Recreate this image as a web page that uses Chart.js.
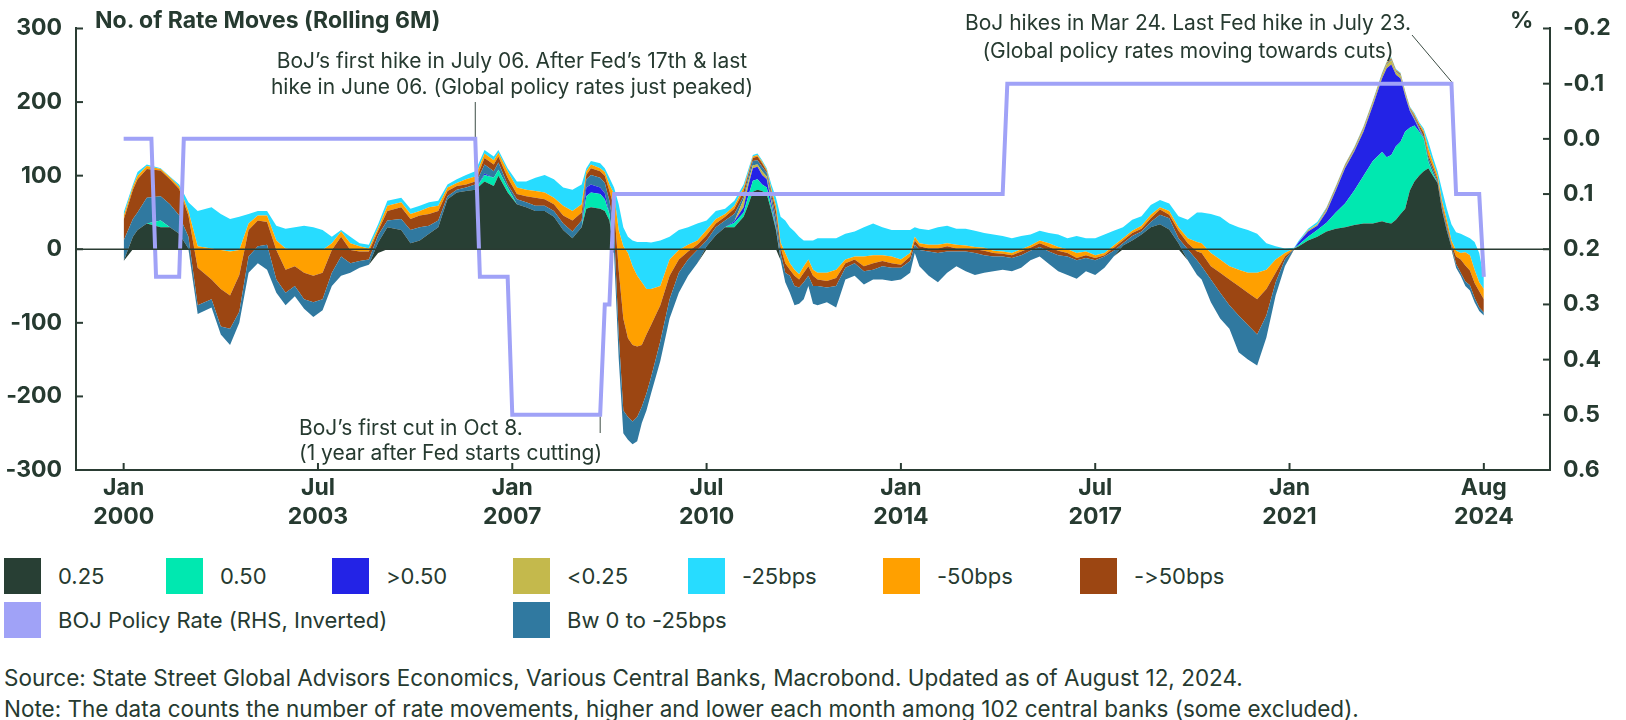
<!DOCTYPE html>
<html>
<head>
<meta charset="utf-8">
<script src="https://cdn.jsdelivr.net/npm/chart.js@4.4.1/dist/chart.umd.min.js"></script>
<style>
  body { margin: 0; background: #fff; }
  #page { position: relative; width: 1626px; height: 720px; overflow: hidden; font-family: Inter, "Noto Sans", sans-serif; color: #263a30;
          font-variant-ligatures: none; font-feature-settings: "liga" 0, "calt" 0; }
  #chart { position: absolute; left: 0; top: 0; }
  .t { position: absolute; white-space: nowrap; }
  .b { font-weight: 700; }
  .ann { font-size: 21px; line-height: 26px; }
  .foot { font-size: 22.5px; line-height: 28px; left: 4px; }
  .item { position: absolute; display: flex; align-items: center; font-size: 22px; white-space: nowrap; }
  .sw { width: 37px; height: 36px; margin-right: 17px; }
</style>
</head>
<body>
<div id="page">
  <canvas id="chart" width="1626" height="540"></canvas>
  <div class="t b" style="left:95px;top:7px;font-size:23px;line-height:27px">No. of Rate Moves (Rolling 6M)</div>
  <div class="t b" style="left:1510px;top:7px;font-size:23px;line-height:26px">%</div>
  <div class="t ann" style="left:512px;top:48px;transform:translateX(-50%);text-align:center">BoJ’s first hike in July 06. After Fed’s 17th &amp; last<br>hike in June 06. (Global policy rates just peaked)</div>
  <div class="t ann" style="left:299px;top:415px;line-height:25px">BoJ’s first cut in Oct 8.<br>(1 year after Fed starts cutting)</div>
  <div class="t ann" style="left:1188px;top:9px;line-height:28px;transform:translateX(-50%);text-align:center">BoJ hikes in Mar 24. Last Fed hike in July 23.<br>(Global policy rates moving towards cuts)</div>
  <div id="legend"></div>
  <div class="t foot" style="top:664px">Source: State Street Global Advisors Economics, Various Central Banks, Macrobond. Updated as of August 12, 2024.</div>
  <div class="t foot" style="top:695px">Note: The data counts the number of rate movements, higher and lower each month among 102 central banks (some excluded).</div>
</div>
<script>
// months since Jan 2000 (sampled)
const months = [
  0, 2, 3, 5, 8, 10, 12, 14, 16, 19,
  21, 23, 25, 27, 29, 31, 33, 35, 37, 39,
  41, 43, 45, 47, 49, 51, 53, 55, 57, 60,
  62, 64, 66, 68, 70, 72, 74, 76, 78, 80,
  81, 83, 85, 87, 89, 91, 93, 95, 97, 99,
  100, 101, 103, 104, 105, 106, 107, 108, 109, 110,
  111, 112, 113, 114, 116, 118, 120, 122, 124, 126,
  128, 130, 132, 134, 135, 136, 137, 138, 139, 140,
  141, 142, 143, 144, 145, 146, 147, 148, 149, 150,
  152, 154, 156, 158, 160, 162, 164, 166, 168, 170,
  171, 172, 174, 176, 178, 180, 182, 184, 186, 188,
  190, 192, 194, 196, 198, 200, 202, 204, 206, 208,
  210, 212, 214, 216, 218, 220, 222, 224, 226, 228,
  230, 232, 233, 235, 237, 239, 241, 243, 245, 247,
  249, 251, 253, 254, 256, 258, 260, 262, 264, 266,
  268, 270, 272, 273, 274, 275, 276, 277, 278, 279,
  280, 281, 282, 283, 284, 285, 286, 287, 288, 289,
  290, 291, 292, 293, 294
];

// floor of the stack (where the lowest band starts)
const floor = [
  -16, 0, 0, 0, 0, 0, 0, 0, -88, -79,
  -116, -130, -100, -32, -19, -28, -59, -76, -64, -81,
  -92, -83, -50, -36, -32, -25, -21, -5, 0, 0,
  0, 0, 0, 0, 0, 0, 0, 0, 0, 0,
  0, 0, 0, 0, 0, 0, 0, 0, 0, 0,
  0, 0, 0, 0, 0, -5, -148, -250, -259, -265,
  -261, -236, -219, -196, -152, -94, -59, -36, -19, 0,
  0, 0, 0, 0, 0, 0, 0, 0, 0, 0,
  0, -15, -45, -59, -76, -74, -68, -50, -74, -76,
  -72, -79, -41, -36, -48, -41, -41, -43, -41, -32,
  -5, -23, -36, -45, -32, -23, -30, -35, -32, -30,
  -28, -30, -25, -15, -10, -20, -30, -35, -40, -30,
  -35, -25, -10, 0, 0, 0, 0, 0, 0, 0,
  -15, -35, -41, -72, -94, -108, -140, -150, -158, -120,
  -63, -23, 0, 0, 0, 0, 0, 0, 0, 0,
  0, 0, 0, 0, 0, 0, 0, 0, 0, 0,
  0, 0, 0, 0, 0, 0, 0, 0, -25, -36,
  -50, -56, -72, -84, -90
];

const hike025 = [
  0, 17, 26, 35, 30, 30, 21, 1, 0, 0,
  0, 0, 0, 0, 0, 0, 0, 0, 0, 0,
  0, 0, 0, 0, 0, 0, 0, 14, 30, 26,
  8, 12, 21, 30, 68, 77, 79, 81, 92, 86,
  100, 77, 61, 57, 52, 52, 44, 26, 15, 30,
  55, 57, 55, 52, 39, 0, 0, 0, 0, 0,
  0, 0, 0, 0, 0, 0, 0, 0, 0, 4,
  19, 30, 30, 44, 60, 78, 81, 79, 75, 52,
  26, 0, 0, 0, 0, 0, 0, 0, 0, 0,
  0, 0, 0, 0, 0, 0, 0, 0, 0, 0,
  0, 0, 0, 0, 0, 0, 0, 0, 0, 0,
  0, 0, 0, 0, 0, 0, 0, 0, 0, 0,
  0, 0, 0, 5, 12, 20, 30, 34, 27, 8,
  0, 0, 0, 0, 0, 0, 0, 0, 0, 0,
  0, 0, 1, 4, 12, 17, 24, 28, 30, 33,
  35, 35, 38, 36, 35, 40, 48, 55, 80, 92,
  100, 106, 110, 100, 90, 52, 25, 3, 0, 0,
  0, 0, 0, 0, 0
];

const hike050 = [
  0, 0, 0, 0, 9, 0, 0, 0, 0, 0,
  0, 0, 0, 0, 0, 0, 0, 0, 0, 0,
  0, 0, 0, 0, 0, 0, 0, 0, 0, 0,
  0, 0, 0, 0, 0, 0, 0, 0, 9, 11,
  8, 7, 0, 0, 0, 0, 0, 0, 0, 0,
  17, 20, 20, 16, 9, 0, 0, 0, 0, 0,
  0, 0, 0, 0, 0, 0, 0, 0, 0, 0,
  0, 0, 6, 6, 12, 15, 14, 9, 9, 5,
  2, 0, 0, 0, 0, 0, 0, 0, 0, 0,
  0, 0, 0, 0, 0, 0, 0, 0, 0, 0,
  0, 0, 0, 0, 0, 0, 0, 0, 0, 0,
  0, 0, 0, 0, 0, 0, 0, 0, 0, 0,
  0, 0, 0, 0, 0, 0, 0, 0, 0, 0,
  0, 0, 0, 0, 0, 0, 0, 0, 0, 0,
  0, 0, 0, 2, 5, 9, 12, 22, 32, 47,
  65, 85, 94, 89, 93, 100, 98, 105, 85, 76,
  60, 44, 9, 3, 0, 0, 0, 0, 0, 0,
  0, 0, 0, 0, 0
];

const hikeOver050 = [
  0, 0, 0, 0, 0, 0, 0, 0, 0, 0,
  0, 0, 0, 0, 0, 0, 0, 0, 0, 0,
  0, 0, 0, 0, 0, 0, 0, 0, 0, 0,
  0, 0, 0, 0, 0, 0, 0, 0, 2, 0,
  0, 0, 0, 0, 0, 0, 0, 0, 0, 0,
  12, 11, 9, 8, 0, 0, 0, 0, 0, 0,
  0, 0, 0, 0, 0, 0, 0, 0, 0, 0,
  0, 0, 2, 7, 14, 17, 17, 13, 11, 6,
  2, 0, 0, 0, 0, 0, 0, 0, 0, 0,
  0, 0, 0, 0, 0, 0, 0, 0, 0, 0,
  0, 0, 0, 0, 0, 0, 0, 0, 0, 0,
  0, 0, 0, 0, 0, 0, 0, 0, 0, 0,
  0, 0, 0, 0, 0, 0, 0, 0, 0, 0,
  0, 0, 0, 0, 0, 0, 0, 0, 0, 0,
  0, 0, 0, 4, 7, 6, 15, 30, 48, 53,
  60, 75, 100, 121, 123, 97, 86, 48, 23, 8,
  3, 0, 0, 0, 0, 0, 0, 0, 0, 0,
  0, 0, 0, 0, 0
];

const hikeUnder025 = [
  0, 0, 0, 0, 0, 0, 0, 0, 0, 0,
  0, 0, 0, 0, 0, 0, 0, 0, 0, 0,
  0, 0, 0, 0, 0, 0, 0, 0, 0, 0,
  0, 0, 0, 0, 0, 0, 0, 0, 0, 0,
  0, 0, 0, 0, 0, 0, 0, 0, 0, 0,
  0, 0, 0, 0, 0, 0, 0, 0, 0, 0,
  0, 0, 0, 0, 0, 0, 0, 0, 0, 0,
  0, 0, 0, 11, 6, 4, 3, 5, 4, 3,
  1, 0, 0, 0, 0, 0, 0, 0, 0, 0,
  0, 0, 0, 0, 0, 0, 0, 0, 0, 0,
  0, 0, 0, 0, 0, 0, 0, 0, 0, 0,
  0, 0, 0, 0, 0, 0, 0, 0, 0, 0,
  0, 0, 0, 0, 0, 0, 0, 0, 0, 0,
  0, 0, 0, 0, 0, 0, 0, 0, 0, 0,
  0, 0, 0, 0, 2, 2, 2, 2, 2, 2,
  3, 3, 4, 5, 6, 4, 4, 3, 2, 1,
  1, 0, 0, 0, 0, 0, 0, 0, 0, 0,
  0, 0, 0, 0, 0
];

const cutBw025 = [
  28, 24, 24, 35, 33, 31, 25, 16, 12, 11,
  11, 22, 15, 22, 23, 34, 18, 17, 14, 13,
  20, 15, 18, 26, 13, 9, 7, 10, 9, 15,
  18, 18, 11, 9, 4, 4, 5, 7, 12, 9,
  10, 4, 7, 7, 7, 7, 8, 9, 9, 9,
  11, 13, 13, 14, 18, 31, 32, 31, 31, 31,
  33, 22, 23, 22, 27, 26, 27, 22, 18, 8,
  11, 9, 10, 4, 6, 6, 6, 6, 5, 7,
  12, 10, 13, 23, 26, 22, 23, 14, 24, 26,
  20, 29, 16, 17, 18, 13, 18, 18, 16, 16,
  11, 22, 33, 40, 29, 20, 27, 30, 24, 20,
  18, 18, 17, 13, 13, 17, 22, 25, 25, 18,
  20, 15, 8, 3, 6, 4, 7, 13, 15, 7,
  15, 20, 18, 31, 35, 32, 50, 47, 42, 30,
  18, 9, 0, 0, 0, 0, 1, 1, 1, 1,
  1, 1, 1, 1, 1, 1, 1, 1, 1, 2,
  2, 3, 5, 5, 2, 3, 4, 2, 5, 4,
  6, 7, 6, 5, 4
];

const cutOver50 = [
  28, 40, 45, 39, 35, 34, 36, 29, 51, 27,
  51, 45, 50, 36, 35, 31, 40, 31, 27, 36,
  36, 36, 31, 27, 18, 13, 11, 6, 13, 16,
  15, 16, 16, 13, 7, 5, 4, 4, 9, 9,
  8, 9, 7, 8, 11, 9, 9, 11, 15, 11,
  6, 9, 9, 10, 13, 31, 88, 125, 107, 104,
  96, 84, 80, 71, 49, 32, 18, 11, 7, 7,
  5, 5, 7, 7, 4, 4, 5, 5, 2, 5,
  9, 8, 13, 8, 14, 11, 13, 13, 14, 9,
  9, 11, 6, 5, 7, 9, 7, 6, 4, 6,
  6, 5, 4, 6, 7, 4, 4, 5, 6, 5,
  4, 4, 5, 4, 5, 6, 6, 5, 3, 4,
  3, 2, 4, 4, 4, 4, 5, 7, 5, 10,
  8, 12, 18, 18, 27, 35, 40, 44, 48, 36,
  13, 4, 0, 0, 0, 0, 1, 1, 1, 1,
  1, 1, 1, 1, 1, 1, 1, 1, 1, 2,
  3, 5, 4, 4, 3, 4, 4, 2, 10, 18,
  22, 20, 20, 22, 18
];

const cut50 = [
  5, 4, 5, 4, 2, 3, 3, 6, 29, 42,
  53, 60, 34, 9, 7, 9, 13, 29, 22, 31,
  35, 31, 9, 7, 9, 7, 4, 4, 7, 7,
  7, 6, 9, 7, 5, 4, 7, 7, 6, 6,
  5, 9, 9, 9, 9, 9, 9, 13, 13, 11,
  5, 5, 4, 5, 9, 18, 54, 98, 116, 107,
  96, 85, 62, 49, 26, 22, 13, 9, 6, 7,
  6, 4, 4, 5, 2, 2, 2, 2, 2, 4,
  7, 6, 14, 9, 8, 7, 9, 9, 8, 9,
  11, 11, 5, 4, 13, 11, 8, 9, 7, 5,
  5, 4, 5, 5, 4, 5, 4, 3, 4, 3,
  3, 3, 3, 3, 4, 5, 5, 5, 7, 5,
  4, 3, 3, 3, 3, 4, 5, 3, 5, 5,
  7, 13, 13, 18, 18, 18, 22, 27, 36, 26,
  18, 5, 0, 0, 0, 0, 1, 1, 1, 1,
  1, 1, 1, 1, 1, 1, 1, 1, 1, 2,
  2, 3, 9, 6, 5, 6, 7, 5, 8, 9,
  18, 21, 18, 12, 14
];

const cut25 = [
  5, 3, 5, 2, 1, 1, 3, 12, 48, 56,
  49, 44, 45, 13, 6, 6, 20, 27, 31, 33,
  31, 27, 9, 2, 9, 4, 5, 5, 7, 6,
  7, 7, 7, 7, 4, 5, 6, 7, 5, 5,
  4, 4, 8, 11, 18, 24, 25, 25, 29, 27,
  4, 5, 7, 5, 9, 9, 35, 26, 22, 35,
  46, 55, 64, 63, 62, 31, 27, 24, 23, 13,
  11, 7, 7, 4, 4, 2, 2, 2, 2, 6,
  11, 35, 44, 49, 52, 51, 35, 26, 40, 47,
  47, 43, 35, 34, 40, 43, 38, 36, 40, 31,
  13, 20, 20, 24, 24, 22, 23, 22, 20, 22,
  21, 20, 18, 15, 13, 14, 17, 15, 23, 18,
  23, 25, 20, 15, 15, 13, 13, 10, 10, 15,
  25, 40, 42, 53, 58, 58, 58, 58, 53, 36,
  18, 6, 1, 2, 2, 3, 1, 1, 1, 1,
  1, 1, 1, 1, 1, 1, 1, 1, 1, 2,
  2, 3, 9, 7, 6, 15, 15, 22, 25, 26,
  22, 23, 38, 40, 16
];

// BOJ policy rate (RHS, inverted)
const bojMonths = [0, 6, 7, 12, 13, 76, 77, 83, 84, 103, 104, 105, 106, 190, 191, 287, 288, 293, 294];
const bojRate   = [0, 0, 0.25, 0.25, 0, 0, 0.25, 0.25, 0.5, 0.5, 0.3, 0.3, 0.1, 0.1, -0.1, -0.1, 0.1, 0.1, 0.25];

const tickMonths = [0, 42, 84, 126, 168, 210, 252, 294];
const tickLabels = [['Jan', '2000'], ['Jul', '2003'], ['Jan', '2007'], ['Jul', '2010'],
                    ['Jan', '2014'], ['Jul', '2017'], ['Jan', '2021'], ['Aug', '2024']];

const TXT = '#263a30';
const AXIS = '#2a3c33';
const tickFont = { family: 'Inter', size: 23, weight: '700', lineHeight: 1.26 };

const bands = [
  { label: '0.25', data: hike025, color: '#283f34' },
  { label: '0.50', data: hike050, color: '#00e8b0' },
  { label: '>0.50', data: hikeOver050, color: '#2323e6' },
  { label: '<0.25', data: hikeUnder025, color: '#c4b94c' },
  { label: 'Bw 0 to -25bps', data: cutBw025, color: '#3079a0' },
  { label: '->50bps', data: cutOver50, color: '#9c4612' },
  { label: '-50bps', data: cut50, color: '#ffa000' },
  { label: '-25bps', data: cut25, color: '#27dcff' }
];
const bojColor = '#a0a2f7';

const pts = arr => months.map((m, i) => ({ x: m, y: arr[i] }));

const datasets = [
  {
    label: 'BOJ Policy Rate (RHS, Inverted)',
    data: bojMonths.map((m, i) => ({ x: m, y: bojRate[i] })),
    yAxisID: 'y1', borderColor: bojColor, borderWidth: 4, fill: false,
    pointRadius: 0, tension: 0, order: -1, borderJoinStyle: 'miter'
  },
  {
    label: 'floor', data: pts(floor), yAxisID: 'y',
    borderColor: 'rgba(0,0,0,0)', borderWidth: 0, pointRadius: 0, fill: false
  }
];
bands.forEach(b => datasets.push({
  label: b.label, data: pts(b.data), yAxisID: 'y',
  backgroundColor: b.color, borderColor: 'rgba(0,0,0,0)', borderWidth: 0,
  pointRadius: 0, tension: 0, fill: '-1'
}));

// legend (HTML)
const legendOrder = ['0.25', '0.50', '>0.50', '<0.25', '-25bps', '-50bps', '->50bps'];
const row1Left = [4, 166, 332, 513, 688, 883, 1080];
const legend = document.getElementById('legend');
function addItem(name, color, left, top) {
  const d = document.createElement('div');
  d.className = 'item';
  d.style.left = left + 'px';
  d.style.top = top + 'px';
  const sw = document.createElement('span');
  sw.className = 'sw';
  sw.style.background = color;
  const tx = document.createElement('span');
  tx.textContent = name;
  d.appendChild(sw);
  d.appendChild(tx);
  legend.appendChild(d);
}
legendOrder.forEach((n, i) => addItem(n, bands.find(b => b.label === n).color, row1Left[i], 558));
addItem('BOJ Policy Rate (RHS, Inverted)', bojColor, 4, 602);
addItem('Bw 0 to -25bps', bands[4].color, 513, 602);

function line(ctx, x1, y1, x2, y2) {
  ctx.beginPath(); ctx.moveTo(x1, y1); ctx.lineTo(x2, y2); ctx.stroke();
}

const decor = {
  id: 'decor',
  afterDatasetsDraw(chart) {
    const { ctx, chartArea: a, scales: { x, y, y1 } } = chart;
    ctx.save();
    ctx.strokeStyle = AXIS;
    ctx.lineWidth = 1.5;
    const y0 = y.getPixelForValue(0);
    line(ctx, a.left, y0, a.right, y0);
    ctx.lineWidth = 2;
    y.ticks.forEach(t => { const p = y.getPixelForValue(t.value); line(ctx, a.left, p, a.left + 7, p); });
    y1.ticks.forEach(t => { const p = y1.getPixelForValue(t.value); line(ctx, a.right - 7, p, a.right, p); });
    x.ticks.forEach(t => { const p = x.getPixelForValue(t.value); line(ctx, p, a.bottom - 7, p, a.bottom); });
    // annotation leaders
    ctx.strokeStyle = '#3d4d45';
    ctx.lineWidth = 1;
    line(ctx, x.getPixelForValue(76), 102, x.getPixelForValue(76), y1.getPixelForValue(0) - 2);
    line(ctx, x.getPixelForValue(103), y1.getPixelForValue(0.5) + 2, x.getPixelForValue(103), 433);
    line(ctx, 1412, 35, x.getPixelForValue(287), y1.getPixelForValue(-0.1) - 2);
    ctx.restore();
  }
};

new Chart(document.getElementById('chart'), {
  type: 'line',
  data: { datasets },
  options: {
    responsive: false,
    animation: false,
    layout: { padding: { top: 20, left: 0, right: 0, bottom: 0 } },
    plugins: { legend: { display: false }, tooltip: { enabled: false } },
    elements: { line: { tension: 0 } },
    scales: {
      x: {
        type: 'linear', min: -10.3, max: 308.3,
        grid: { display: false, drawTicks: false },
        border: { display: true, color: AXIS, width: 2 },
        afterBuildTicks: s => { s.ticks = tickMonths.map(v => ({ value: v })); },
        afterFit: s => { s.height = 70; },
        ticks: {
          autoSkip: false, maxRotation: 0, padding: 4, color: TXT, font: tickFont,
          callback: v => tickLabels[tickMonths.indexOf(v)]
        }
      },
      y: {
        position: 'left', min: -300, max: 300, stacked: 'single',
        grid: { display: false, drawTicks: false },
        border: { display: true, color: AXIS, width: 2 },
        afterFit: s => { s.width = 76; },
        ticks: { stepSize: 100, padding: 14, color: TXT, font: tickFont }
      },
      y1: {
        position: 'right', min: -0.2, max: 0.6, reverse: true,
        grid: { display: false, drawTicks: false },
        border: { display: true, color: AXIS, width: 2 },
        afterFit: s => { s.width = 76; },
        ticks: {
          stepSize: 0.1, padding: 13, color: TXT, font: tickFont,
          callback: v => (Math.abs(v) < 1e-9 ? 0 : v).toFixed(1)
        }
      }
    }
  },
  plugins: [decor]
});
</script>
</body>
</html>
